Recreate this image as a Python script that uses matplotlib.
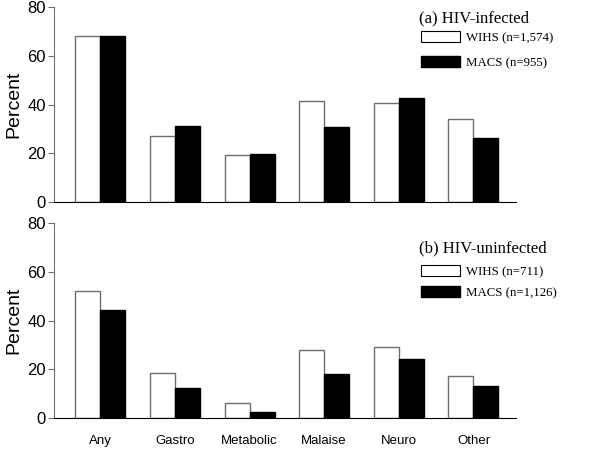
import numpy as np
import matplotlib
matplotlib.use("Agg")
import matplotlib.pyplot as plt
from matplotlib.patches import Patch

# donnees
categories = ["Any", "Gastro", "Metabolic", "Malaise", "Neuro", "Other"]
wihs_inf = [68.2, 27.0, 19.4, 41.5, 40.8, 34.0]
macs_inf = [68.2, 31.1, 19.7, 30.8, 42.9, 26.2]
wihs_uninf = [52.2, 18.6, 6.0, 28.1, 29.1, 17.1]
macs_uninf = [44.5, 12.4, 2.6, 18.3, 24.3, 13.2]

titres = ["(a) HIV-infected", "(b) HIV-uninfected"]
labels_wihs = ["WIHS (n=1,574)", "WIHS (n=711)"]
labels_macs = ["MACS (n=955)", "MACS (n=1,126)"]
yticks = [0, 20, 40, 60, 80]

fig = plt.figure(figsize=(6, 4.51), dpi=100)
ax1 = fig.add_axes([0.09, 0.552, 0.77, 0.432])
ax2 = fig.add_axes([0.09, 0.073, 0.77, 0.432])

x = np.arange(len(categories))
w = 0.335
edge = "#6e6e6e"

# positions du titre et de la legende (fraction d'axe)
y_titre = [0.945, 0.87]
y_leg = [0.877, 0.785]
espace = [0.92, 0.6]

for k, (ax, wv, mv) in enumerate([(ax1, wihs_inf, macs_inf), (ax2, wihs_uninf, macs_uninf)]):
    ax.bar(x - w/2, wv, w, color="white", edgecolor=edge, linewidth=1.0)
    ax.bar(x + w/2, mv, w, color="black", edgecolor="black", linewidth=1.0)
    ax.set_xlim(-0.62, 5.57)
    ax.set_ylim(0, 80)
    ax.set_yticks(yticks)
    ax.spines["top"].set_visible(False)
    ax.spines["right"].set_visible(False)
    ax.spines["left"].set_color(edge)
    ax.spines["bottom"].set_color("black")
    ax.tick_params(axis="y", length=4, color=edge, labelsize=12, pad=2)
    ax.tick_params(axis="x", length=0, labelsize=9.5, pad=12)
    for lab in ax.get_yticklabels():
        lab.set_family("Liberation Sans")
    ax.set_ylabel("Percent", fontsize=14, family="Liberation Sans", labelpad=3)

    ax.text(0.79, y_titre[k], titres[k], transform=ax.transAxes, va="center",
            ha="left", fontsize=12, family="Liberation Serif")
    handles = [Patch(facecolor="white", edgecolor="black", linewidth=0.8),
               Patch(facecolor="black", edgecolor="black")]
    ax.legend(handles, [labels_wihs[k], labels_macs[k]],
              loc="upper left", bbox_to_anchor=(0.795, y_leg[k]),
              frameon=False,
              prop={"family": "Liberation Serif", "size": 9.3},
              handlelength=3.0, handleheight=0.95, labelspacing=espace[k],
              handletextpad=0.5, borderpad=0.0, borderaxespad=0.0)

ax1.set_xticks(x)
ax1.set_xticklabels([])
ax2.set_xticks(x)
ax2.set_xticklabels(categories, family="Liberation Sans")

fig.savefig("out.png", dpi=100)
